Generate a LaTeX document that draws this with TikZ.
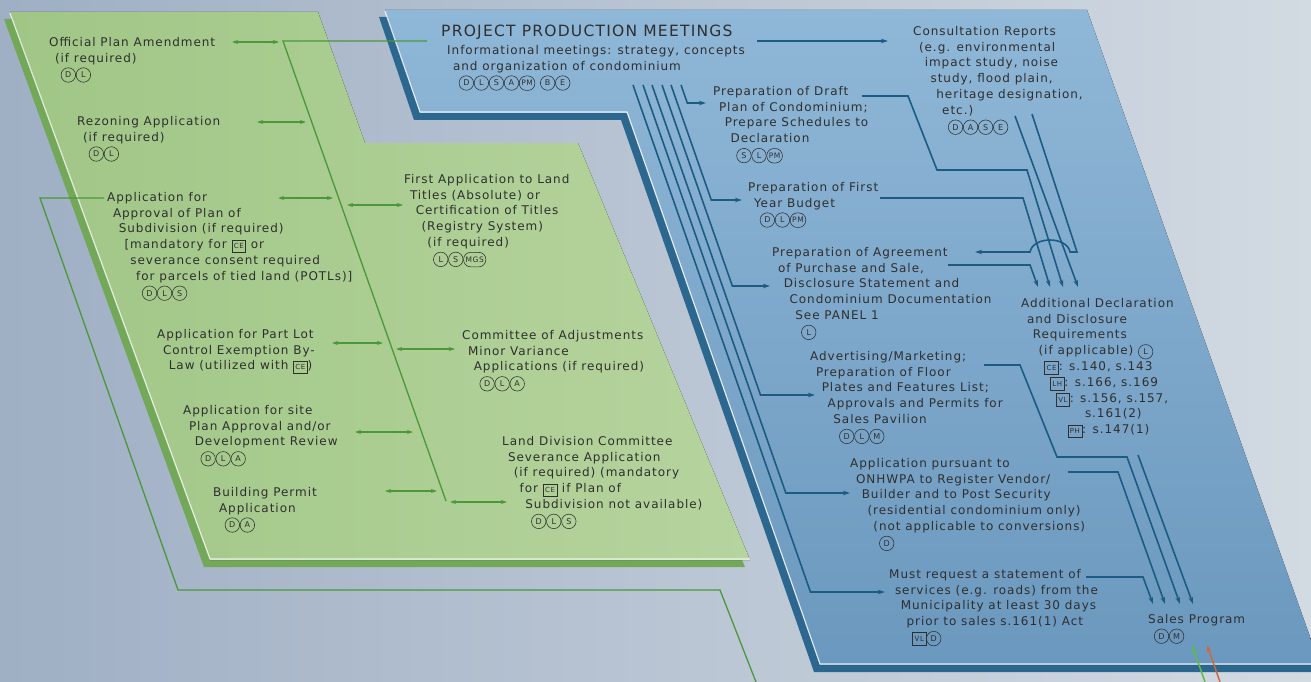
\documentclass[tikz,border=0pt]{standalone}
\usepackage{fontspec}
\setmainfont{DejaVu Sans}[LetterSpace=8]
\usetikzlibrary{arrows.meta}

\definecolor{bgl}{HTML}{9FAFC4}
\definecolor{bgr}{HTML}{D2DAE2}
\definecolor{grl}{HTML}{A0C686}
\definecolor{grr}{HTML}{B6D49E}
\definecolor{grside}{HTML}{72A858}
\definecolor{grline}{HTML}{4B983A}
\definecolor{blt}{HTML}{8FB7D7}
\definecolor{blb}{HTML}{6B98BE}
\definecolor{blside}{HTML}{2B678E}
\definecolor{blline}{HTML}{1C5C84}
\definecolor{ink}{HTML}{2F2F2F}
\definecolor{redarr}{HTML}{D0683F}
\definecolor{grarr}{HTML}{5DBB4A}

\tikzset{
  txt/.style={anchor=north west, inner sep=0pt, align=left, text=ink,
    font=\fontsize{12}{15.8}\selectfont},
  ttl/.style={anchor=north west, inner sep=0pt, text=ink,
    font=\fontsize{15.5}{17}\selectfont},
  rolec/.style={circle, draw=ink, line width=0.55pt, inner sep=0pt,
    minimum size=14.5pt, text=ink, font=\fontsize{8}{8}\selectfont},
  rolep/.style={rectangle, rounded corners=7pt, draw=ink, line width=0.55pt,
    inner xsep=2pt, inner ysep=1pt, minimum height=14.5pt, text=ink, font=\fontsize{7.5}{8}\selectfont},
  actbox/.style={rectangle, draw=ink, line width=0.55pt, inner xsep=2pt, inner ysep=1pt,
    minimum height=12.5pt, text=ink, font=\fontsize{7}{8}\selectfont},
  gline/.style={grline, line width=1.3pt},
  garr/.style={grline, line width=1.3pt,
    {Stealth[length=6pt,width=4pt]}-{Stealth[length=6pt,width=4pt]}},
  bline/.style={blline, line width=1.6pt},
  barr/.style={blline, line width=1.6pt, -{Stealth[length=7pt,width=4.5pt]}},
}

\newcommand\rolec[1]{\tikz[x=1cm,y=1cm,baseline=(rc.base)]\node[rolec](rc){#1};}
\newcommand\rolep[1]{\tikz[x=1cm,y=1cm,baseline=(rp.base)]\node[rolep](rp){#1};}
\newcommand\actbox[1]{\tikz[x=1cm,y=1cm,baseline=(ab.base)]\node[actbox](ab){#1};}
\newlength\slantstep
\setlength\slantstep{5.8pt}
\newcommand\indl[1]{\hspace*{#1\slantstep}}

\begin{document}
\begin{tikzpicture}[x=1pt,y=-1pt]
  % Background
  \fill[left color=bgl,right color=bgr] (0,0) rectangle (1311,682);
  \useasboundingbox (0,0) rectangle (1311,682);

  % Green panel
  \fill[grside] (4,19) -- (312,19) -- (359,150) -- (572,150) -- (745,567) -- (204,567) -- cycle;
  \fill[left color=grl,right color=grr] (10,12) -- (318,12) -- (365,143) -- (578,143) -- (750,560) -- (210,560) -- cycle;
  \draw[white,line width=1.2pt,opacity=0.8] (10,13) -- (210,559) -- (750,559);

  % Blue panel
  \fill[blside] (379,17) -- (1081,17) -- (1320,672) -- (814,672) -- (621,120) -- (414,120) -- cycle;
  \fill[top color=blt,bottom color=blb] (385,10) -- (1087,10) -- (1320,665) -- (820,665) -- (627,113) -- (420,113) -- cycle;
  \draw[white,line width=1.2pt,opacity=0.8] (385,11) -- (420,112) -- (627,112) -- (820,664) -- (1320,664);

  % Green items, left column
  \node[txt] (opa) at (49,37) {Official Plan Amendment\\\indl{1}(if required)\\\indl{2}\rolec{D}\rolec{L}};
  \node[txt] (rez) at (77,116) {Rezoning Application\\\indl{1}(if required)\\\indl{2}\rolec{D}\rolec{L}};
  \node[txt] (appr) at (107,192) {Application for\\\indl{1}Approval of Plan of\\\indl{2}Subdivision (if required)\\\indl{3}[mandatory for \actbox{CE} or\\\indl{4}severance consent required\\\indl{5}for parcels of tied land (POTLs)]\\\indl{6}\rolec{D}\rolec{L}\rolec{S}};
  \node[txt] (plce) at (157,329) {Application for Part Lot\\\indl{1}Control Exemption By-\\\indl{2}Law (utilized with \actbox{CE})};
  \node[txt] (spa) at (183,405) {Application for site\\\indl{1}Plan Approval and/or\\\indl{2}Development Review\\\indl{3}\rolec{D}\rolec{L}\rolec{A}};
  \node[txt] (bpa) at (213,487) {Building Permit\\\indl{1}Application\\\indl{2}\rolec{D}\rolec{A}};

  % Green items, right column
  \node[txt] (fal) at (404,174) {First Application to Land\\\indl{1}Titles (Absolute) or\\\indl{2}Certification of Titles\\\indl{3}(Registry System)\\\indl{4}(if required)\\\indl{5}\rolec{L}\rolec{S}\rolep{MGS}};
  \node[txt] (coa) at (462,330) {Committee of Adjustments\\\indl{1}Minor Variance\\\indl{2}Applications (if required)\\\indl{3}\rolec{D}\rolec{L}\rolec{A}};
  \node[txt] (ldc) at (502,436) {Land Division Committee\\\indl{1}Severance Application\\\indl{2}(if required) (mandatory\\\indl{3}for \actbox{CE} if Plan of\\\indl{4}Subdivision not available)\\\indl{5}\rolec{D}\rolec{L}\rolec{S}};

  % Blue items
  \node[ttl] (ppm) at (441,25) {PROJECT PRODUCTION MEETINGS};
  \node[txt] (ppmsub) at (447,45) {Informational meetings: strategy, concepts\\\indl{1}and organization of condominium\\\indl{2}\rolec{D}\rolec{L}\rolec{S}\rolec{A}\rolep{PM}\hspace{5pt}\rolec{B}\rolec{E}};
  \node[txt] (cons) at (913,26) {Consultation Reports\\\indl{1}(e.g. environmental\\\indl{2}impact study, noise\\\indl{3}study, flood plain,\\\indl{4}heritage designation,\\\indl{5}etc.)\\\indl{6}\rolec{D}\rolec{A}\rolec{S}\rolec{E}};
  \node[txt] (draft) at (713,86) {Preparation of Draft\\\indl{1}Plan of Condominium;\\\indl{2}Prepare Schedules to\\\indl{3}Declaration\\\indl{4}\rolec{S}\rolec{L}\rolep{PM}};
  \node[txt] (budg) at (748,182) {Preparation of First\\\indl{1}Year Budget\\\indl{2}\rolec{D}\rolec{L}\rolep{PM}};
  \node[txt] (agr) at (772,247) {Preparation of Agreement\\\indl{1}of Purchase and Sale,\\\indl{2}Disclosure Statement and\\\indl{3}Condominium Documentation\\\indl{4}See PANEL 1\\\indl{5}\rolec{L}};
  \node[txt] (adv) at (810,351) {Advertising/Marketing;\\\indl{1}Preparation of Floor\\\indl{2}Plates and Features List;\\\indl{3}Approvals and Permits for\\\indl{4}Sales Pavilion\\\indl{5}\rolec{D}\rolec{L}\rolec{M}};
  \node[txt] (onh) at (850,458) {Application pursuant to\\\indl{1}ONHWPA to Register Vendor/\\\indl{2}Builder and to Post Security\\\indl{3}(residential condominium only)\\\indl{4}(not applicable to conversions)\\\indl{5}\rolec{D}};
  \node[txt] (must) at (889,569) {Must request a statement of\\\indl{1}services (e.g. roads) from the\\\indl{2}Municipality at least 30 days\\\indl{3}prior to sales s.161(1) Act\\\indl{4}\actbox{VL}\rolec{D}};
  \node[txt] (adl) at (1021,298) {Additional Declaration\\\indl{1}and Disclosure\\\indl{2}Requirements\\\indl{3}(if applicable) \rolec{L}\\\indl{4}\actbox{CE}: s.140, s.143\\\indl{5}\actbox{LH}: s.166, s.169\\\indl{6}\actbox{VL}: s.156, s.157,\\\indl{11}s.161(2)\\\indl{8}\actbox{PH}: s.147(1)};
  \node[txt] (sales) at (1148,614) {Sales Program\\\indl{1}\rolec{D}\rolec{M}};

  % Green connectors
  \coordinate (gs0) at (427,41);
  \coordinate (gs1) at (283,41);
  \coordinate (gs2) at (446,501);
  \draw[gline] (gs0) -- (gs1) -- (gs2);
  \foreach \n/\y/\xa/\xb in {opa/42/232/279, rez/122/257/306, appr/198/278/333,
      plce/343/332/383, spa/432/355/413, bpa/491/385/437,
      fal/205/347/403, coa/349/396/455, ldc/502/450/507}{
    \coordinate (\n a) at (\xa,\y);
    \coordinate (\n b) at (\xb,\y);
    \draw[garr] (\n a) -- (\n b);
  }
  \coordinate (gl0) at (104,198);
  \coordinate (gl1) at (40,198);
  \coordinate (gl2) at (178,590);
  \coordinate (gl3) at (720,590);
  \coordinate (gl4) at (756,682);
  \draw[gline] (gl0) -- (gl1) -- (gl2) -- (gl3) -- (gl4);

  % Blue connectors from the meetings
  \coordinate (pm0) at (757,41);
  \coordinate (pm1) at (888,41);
  \draw[barr] (pm0) -- (pm1);
  \foreach \n/\xo/\yc/\xt in {dr/681/103/706, bu/671/200/742, ag/662/286/770,
      av/652/395/815, on/643/493/850, mu/633/592/885}{
    \coordinate (\n s) at (\xo,85);
    \coordinate (\n c) at ({\xo+0.35*(\yc-85)},\yc);
    \coordinate (\n t) at (\xt,\yc);
    \draw[barr] (\n s) -- (\n c) -- (\n t);
  }

  % Into the additional declaration
  \coordinate (ad1) at (1038,287);
  \coordinate (ad2) at (1050,287);
  \coordinate (ad3) at (1063,287);
  \coordinate (ad4) at (1078,287);
  \draw[barr] (880,198) coordinate (bo0) -- (1023,198) coordinate (bo1) -- (ad2);
  \draw[barr] (862,96) coordinate (do0) -- (908,96) coordinate (do1) -- (937,170) coordinate (do2) -- (1027,170) coordinate (do3) -- (ad3);
  \draw[barr] (1015,116) coordinate (cs1) -- (ad4);
  \draw[barr] (948,265) coordinate (ao0) -- (1030,265) coordinate (ao1) -- (ad1);
  \draw[barr] (1032,114) coordinate (cs2) -- (1077,252) coordinate (cb) -- (1070,252) coordinate (hr)
    .. controls (1067,236) and (1033,236) .. (1030,252) coordinate (hl) -- (975,252) coordinate (agi);

  % Into the sales program
  \coordinate (sp1) at (1153,604);
  \coordinate (sp2) at (1165,604);
  \coordinate (sp3) at (1180,604);
  \coordinate (sp4) at (1193,604);
  \draw[barr] (1086,577) coordinate (mo0) -- (1143,577) coordinate (mo1) -- (sp1);
  \draw[barr] (1068,472) coordinate (oo0) -- (1118,472) coordinate (oo1) -- (sp2);
  \draw[barr] (984,365) coordinate (vo0) -- (1020,365) coordinate (vo1) -- (1057,457) coordinate (vo2) -- (1127,457) coordinate (vo3) -- (sp3);
  \draw[barr] (1138,455) coordinate (lo0) -- (sp4);

  % From below
  \coordinate (ga) at (1205,682);
  \coordinate (ra) at (1220,682);
  \draw[grarr, line width=1.5pt, -{Stealth[length=7pt,width=4.5pt]}] (ga) -- (1192,645);
  \draw[redarr, line width=1.5pt, -{Stealth[length=7pt,width=4.5pt]}] (ra) -- (1207,645);
\end{tikzpicture}
\end{document}
